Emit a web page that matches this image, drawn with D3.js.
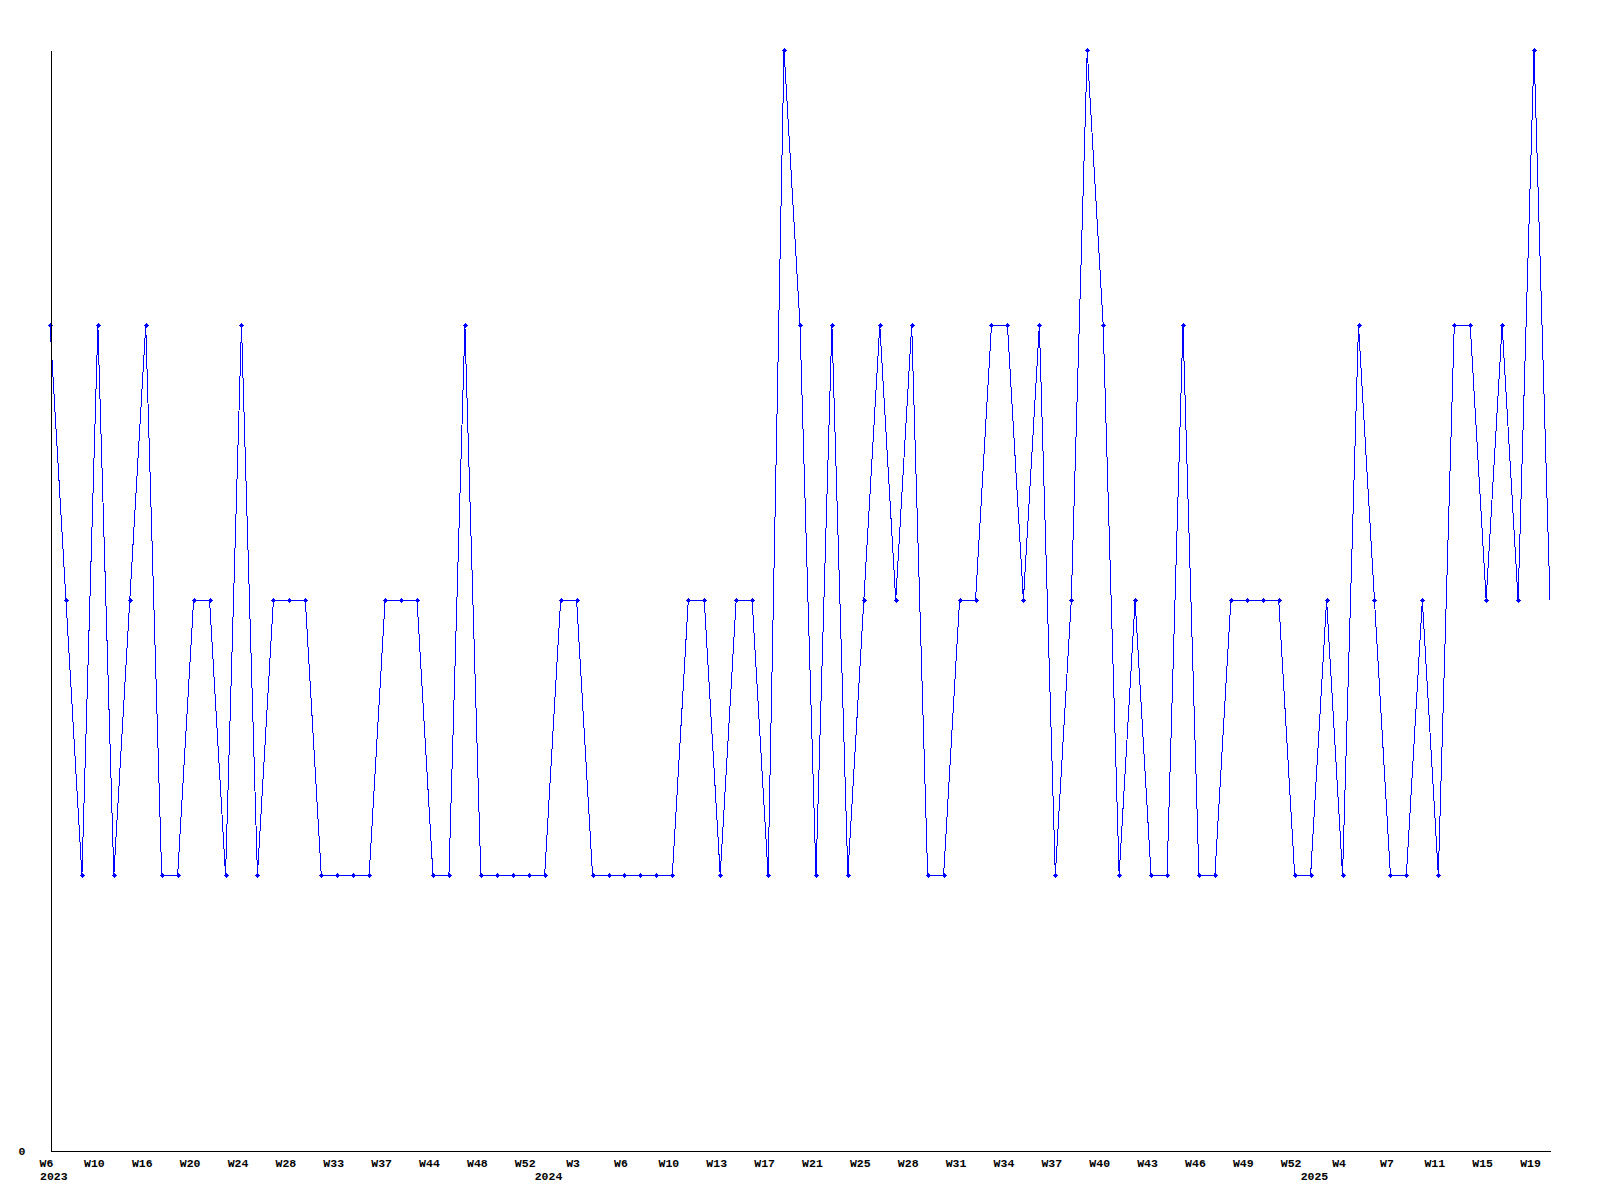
<!DOCTYPE html>
<html>
<head>
<meta charset="utf-8">
<script src="https://cdn.jsdelivr.net/npm/d3@7"></script>
<style>
  html, body { margin: 0; padding: 0; background: #ffffff; }
  svg text { font-family: "Liberation Mono", "DejaVu Sans Mono", monospace; font-weight: bold; font-size: 11.5px; fill: #000; }
</style>
</head>
<body>
<svg id="chart" width="1600" height="1200"></svg>
<script>
// ISO week of each data point (weeks with no entry are absent)
const weeks = [
  6, 7, 9, 10, 12, 14, 16, 17, 18, 20, 21, 23, 24, 25, 26, 28, 29, 31, 33, 34, 35, 37, 39, 41, 44, 45, 46, 48, 49, 51, 52,
  1, 2, 3, 4, 5, 6, 7, 8, 10, 11, 12, 13, 14, 15, 17, 18, 19, 21, 22, 23, 25, 26, 27, 28, 29, 30, 31, 32, 33, 34, 35, 36,
  37, 38, 39, 40, 41, 42, 43, 44, 45, 46, 47, 48, 49, 50, 51, 52,
  1, 2, 4, 5, 6, 7, 8, 9, 11, 12, 13, 15, 16, 17, 19, 20
];
const years = [
  2023, 2023, 2023, 2023, 2023, 2023, 2023, 2023, 2023, 2023, 2023, 2023, 2023, 2023, 2023, 2023, 2023, 2023, 2023, 2023, 2023, 2023, 2023, 2023, 2023, 2023, 2023, 2023, 2023, 2023, 2023,
  2024, 2024, 2024, 2024, 2024, 2024, 2024, 2024, 2024, 2024, 2024, 2024, 2024, 2024, 2024, 2024, 2024, 2024, 2024, 2024, 2024, 2024, 2024, 2024, 2024, 2024, 2024, 2024, 2024, 2024, 2024, 2024,
  2024, 2024, 2024, 2024, 2024, 2024, 2024, 2024, 2024, 2024, 2024, 2024, 2024, 2024, 2024, 2024,
  2025, 2025, 2025, 2025, 2025, 2025, 2025, 2025, 2025, 2025, 2025, 2025, 2025, 2025, 2025, 2025
];
const values = [
  3, 2, 1, 3, 1, 2, 3, 1, 1, 2, 2, 1, 3, 1, 2, 2, 2, 1, 1, 1, 1, 2, 2, 2, 1, 1, 3, 1, 1, 1, 1,
  1, 2, 2, 1, 1, 1, 1, 1, 1, 2, 2, 1, 2, 2, 1, 4, 3, 1, 3, 1, 2, 3, 2, 3, 1, 1, 2, 2, 3, 3, 2,
  3, 1, 2, 4, 3, 1, 2, 1, 1, 3, 1, 1, 2, 2, 2, 2,
  1, 1, 2, 1, 3, 2, 1, 1, 2, 1, 3, 3, 2, 3, 2, 4, 2
];
const yTickValues = [0];
const yMax = 4;

const categories = weeks.map((w, i) => years[i] + "-W" + w);
const data = categories.map((c, i) => ({ key: c, week: weeks[i], year: years[i], value: values[i], i }));

const svg = d3.select("#chart");
const x = d3.scalePoint().domain(categories).range([50, 1550]);
const y = d3.scaleLinear().domain([0, yMax]).range([1150, 50]);

// line
const line = d3.line().x(d => x(d.key)).y(d => y(d.value));
svg.append("path")
  .datum(data)
  .attr("d", line)
  .attr("fill", "none")
  .attr("stroke", "#0000ff")
  .attr("stroke-width", 1)
  .attr("shape-rendering", "crispEdges");

// markers (the last, partial week has none)
const marker = "M-2.5,-0.5H2.5V0.5H-2.5Z M-0.5,-2.5H0.5V2.5H-0.5Z M-1.5,-1.5H1.5V1.5H-1.5Z";
svg.append("g").selectAll("path")
  .data(data.slice(0, data.length - 1))
  .join("path")
  .attr("d", marker)
  .attr("transform", d => `translate(${x(d.key) + 0.5},${y(d.value) + 0.5})`)
  .attr("fill", "#0000ff")
  .attr("shape-rendering", "crispEdges");

// x axis
const tickKeys = categories.filter((c, i) => i % 3 === 0);
const xAxis = d3.axisBottom(x)
  .tickValues(tickKeys)
  .tickSize(0)
  .tickFormat(k => "W" + weeks[categories.indexOf(k)]);
const gx = svg.append("g").attr("transform", "translate(0,1150.5)").call(xAxis);
gx.select(".domain").attr("stroke", "#000").attr("shape-rendering", "crispEdges");
gx.selectAll("text").attr("y", 16).attr("dy", 0).attr("dx", -4)
  .attr("font-family", null).attr("font-size", null).attr("fill", "#000");

// year labels at the first point of each year
const yearStarts = data.filter((d, i) => i === 0 || years[i - 1] !== d.year);
svg.append("g").selectAll("text")
  .data(yearStarts)
  .join("text")
  .attr("x", d => x(d.key) - 10)
  .attr("y", 1180)
  .attr("text-anchor", "start")
  .text(d => d.year);

// y axis
const yAxis = d3.axisLeft(y).tickValues(yTickValues).tickSize(0).tickPadding(25).tickFormat(d3.format("d"));
const gy = svg.append("g").attr("transform", "translate(50.5,0)").call(yAxis);
gy.select(".domain").attr("stroke", "#000").attr("shape-rendering", "crispEdges");
gy.selectAll("text").attr("dy", 0).attr("y", 4)
  .attr("font-family", null).attr("font-size", null).attr("fill", "#000");
</script>
</body>
</html>
